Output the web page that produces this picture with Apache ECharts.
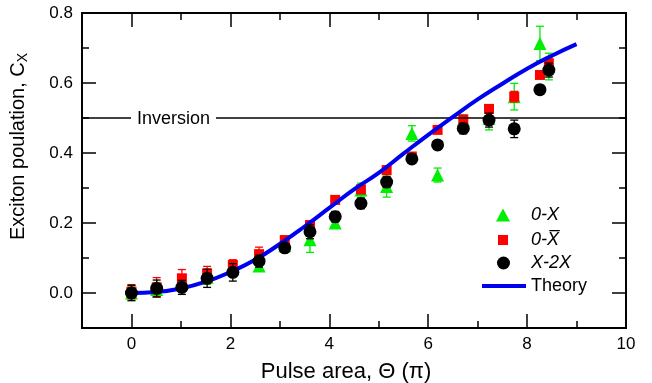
<!DOCTYPE html>
<html>
<head>
<meta charset="utf-8">
<script src="https://cdn.jsdelivr.net/npm/echarts@6/dist/echarts.min.js"></script>
<style>
  html, body { margin: 0; padding: 0; background: #fff; }
  #chart { width: 652px; height: 383px; }
</style>
</head>
<body>
<div id="chart"></div>
<script>
// pulse area (units of pi) of the measured points
const pulseArea = [0, 0.51, 1.02, 1.53, 2.05, 2.58, 3.10, 3.61, 4.12, 4.64, 5.16, 5.67, 6.19, 6.71, 7.23, 7.74, 8.26, 8.44];

// 0-X (green triangles)
const pop0X = [0.0, 0.01, 0.03, 0.045, 0.07, 0.077, 0.135, 0.152, 0.200, 0.294, 0.304, 0.456, 0.337, 0.494, 0.499, 0.561, 0.713, 0.647];
const err0X = [0.02, 0.02, 0.02, 0.02, 0.015, 0.015, 0.015, 0.036, 0.015, 0.02, 0.03, 0.022, 0.02, 0.015, 0.033, 0.038, 0.049, 0.038];

// 0-Xbar (red squares)
const pop0Xbar = [0.004, 0.016, 0.042, 0.056, 0.080, 0.111, 0.151, 0.194, 0.266, 0.296, 0.351, 0.390, 0.466, 0.496, 0.526, 0.561, 0.623, 0.656];
const err0Xbar = [0.02, 0.028, 0.025, 0.02, 0.015, 0.02, 0.012, 0.012, 0.01, 0.012, 0.012, 0.01, 0.01, 0.01, 0.012, 0.015, 0.01, 0.015];

// X-2X (black circles)
const popX2X = [0.0, 0.013, 0.016, 0.042, 0.059, 0.091, 0.129, 0.175, 0.218, 0.256, 0.317, 0.383, 0.423, 0.470, 0.494, 0.469, 0.581, 0.637];
const errX2X = [0.022, 0.024, 0.02, 0.026, 0.025, 0.017, 0.01, 0.02, 0.015, 0.015, 0.015, 0.01, 0.01, 0.015, 0.02, 0.025, 0.012, 0.02];

// theory curve
const theoryX = [0, 0.5, 1, 1.5, 2, 2.5, 3, 3.5, 4, 4.5, 5, 5.5, 6, 6.5, 7, 7.5, 8, 8.5, 9];
const theoryY = [0, 0.003, 0.013, 0.032, 0.060, 0.095, 0.140, 0.190, 0.243, 0.296, 0.343, 0.398, 0.452, 0.503, 0.553, 0.598, 0.641, 0.678, 0.711];

const xMajorTicks = [0, 2, 4, 6, 8, 10];
const yMajorTicks = [0, 0.2, 0.4, 0.6, 0.8];
const inversionLevel = 0.5;

const GREEN = "#00ee00";
const RED = "#ff0000";
const BLUE = "#0000f0";
const font = "Liberation Sans, Arial, sans-serif";

const pts = (ys) => pulseArea.map((x, i) => [x, ys[i]]);
const bars = (ys, es) => pulseArea.map((x, i) => [x, ys[i] - es[i], ys[i] + es[i]]);

function errorBars(name, ys, es, color, z) {
  return {
    name: name,
    type: "custom",
    xAxisIndex: 1,
    yAxisIndex: 1,
    z: z,
    silent: true,
    data: bars(ys, es),
    renderItem: (params, api) => {
      const lo = api.coord([api.value(0), api.value(1)]);
      const hi = api.coord([api.value(0), api.value(2)]);
      const st = { stroke: color, lineWidth: 1.3 };
      return {
        type: "group",
        children: [
          { type: "line", shape: { x1: lo[0], y1: lo[1], x2: hi[0], y2: hi[1] }, style: st },
          { type: "line", shape: { x1: lo[0] - 4, y1: lo[1], x2: lo[0] + 4, y2: lo[1] }, style: st },
          { type: "line", shape: { x1: hi[0] - 4, y1: hi[1], x2: hi[0] + 4, y2: hi[1] }, style: st },
        ],
      };
    },
  };
}

const axisLine = { show: true, onZero: false, lineStyle: { color: "#000", width: 1.8 } };

function xAx(pos, major, labels) {
  return {
    type: "value",
    position: pos,
    min: -1,
    max: 10,
    interval: 1,
    axisLine: axisLine,
    splitLine: { show: false },
    axisTick: major
      ? { inside: true, length: 14, customValues: xMajorTicks, lineStyle: { color: "#000", width: 1.5 } }
      : { inside: true, length: 7, lineStyle: { color: "#000", width: 1.5 } },
    axisLabel: labels
      ? { show: true, customValues: xMajorTicks, color: "#000", fontSize: 17, fontFamily: font, margin: 8 }
      : { show: false },
  };
}

function yAx(pos, major, labels) {
  return {
    type: "value",
    position: pos,
    min: -0.1,
    max: 0.8,
    interval: 0.1,
    axisLine: axisLine,
    splitLine: { show: false },
    axisTick: major
      ? { inside: true, length: 14, customValues: yMajorTicks, lineStyle: { color: "#000", width: 1.5 } }
      : { inside: true, length: 7, lineStyle: { color: "#000", width: 1.5 } },
    axisLabel: labels
      ? { show: true, customValues: yMajorTicks, color: "#000", fontSize: 17, fontFamily: font, margin: 9,
          formatter: (v) => v.toFixed(1) }
      : { show: false },
  };
}

const xAxes = [xAx("bottom", false, false), xAx("bottom", true, true), xAx("top", false, false), xAx("top", true, false)];
xAxes[1].name = "Pulse area, \u0398 (\u03c0)";
xAxes[1].nameLocation = "middle";
xAxes[1].nameGap = 33;
xAxes[1].nameTextStyle = { color: "#000", fontSize: 22, fontFamily: font, padding: [0, 16, 0, 0] };

const yAxes = [yAx("left", false, false), yAx("left", true, true), yAx("right", false, false), yAx("right", true, false)];
yAxes[1].name = "{a|Exciton poulation, C}{s|X}";
yAxes[1].nameLocation = "middle";
yAxes[1].nameGap = 52;
yAxes[1].nameRotate = 90;
yAxes[1].nameTextStyle = {
  color: "#000",
  fontFamily: font,
  padding: [0, 0, 0, 48],
  rich: {
    a: { fontSize: 20, fontFamily: font, color: "#000" },
    s: { fontSize: 14, fontFamily: font, color: "#000", padding: [10, 0, 0, 0] },
  },
};

// one legend per entry so each icon keeps its own size
function legendItem(name, icon, w, h, left, top, padLeft, italic) {
  return {
    orient: "vertical",
    left: left,
    top: top,
    padding: 0,
    icon: icon,
    itemWidth: w,
    itemHeight: h,
    textStyle: { color: "#000", fontSize: 18, fontFamily: font, fontStyle: italic ? "italic" : "normal",
                 padding: [0, 0, 0, padLeft] },
    data: [name],
  };
}

const chart = echarts.init(document.getElementById("chart"), null, { renderer: "canvas" });

chart.setOption({
  animation: false,
  backgroundColor: "#fff",
  grid: { left: 82, right: 26, top: 13, bottom: 55, outerBoundsMode: "none", containLabel: false },
  xAxis: xAxes,
  yAxis: yAxes,
  legend: [
    legendItem("0-X", "triangle", 14, 13, 496, 206, 16, true),
    legendItem("0-X\u0305", "rect", 10, 10, 498, 231, 18, true),
    legendItem("X-2X", "circle", 13, 13, 497, 254, 16, true),
    legendItem("Theory", "rect", 44, 4, 482, 277, 0, false),
  ],
  series: [
    errorBars("err0X", pop0X, err0X, GREEN, 1),
    {
      name: "0-X",
      type: "scatter",
      xAxisIndex: 1,
      yAxisIndex: 1,
      z: 2,
      symbol: "triangle",
      symbolSize: 13,
      itemStyle: { color: GREEN, opacity: 1 },
      data: pts(pop0X),
    },
    errorBars("err0Xbar", pop0Xbar, err0Xbar, RED, 3),
    {
      name: "0-X\u0305",
      type: "scatter",
      xAxisIndex: 1,
      yAxisIndex: 1,
      z: 4,
      symbol: "rect",
      symbolSize: 10,
      itemStyle: { color: RED, opacity: 1 },
      data: pts(pop0Xbar),
    },
    {
      name: "Theory",
      type: "line",
      xAxisIndex: 1,
      yAxisIndex: 1,
      z: 5,
      smooth: true,
      symbol: "none",
      lineStyle: { color: BLUE, width: 4 },
      itemStyle: { color: BLUE },
      data: theoryX.map((x, i) => [x, theoryY[i]]),
      markLine: {
        silent: true,
        symbol: "none",
        lineStyle: { color: "#000", width: 1.5, type: "solid" },
        label: {
          show: true,
          formatter: "Inversion",
          position: "insideStartTop",
          distance: [49, -10],
          color: "#000",
          fontSize: 18,
          fontFamily: font,
          backgroundColor: "#fff",
          padding: [0, 6, 0, 6],
        },
        data: [{ yAxis: inversionLevel }],
      },
    },
    errorBars("errX2X", popX2X, errX2X, "#000", 6),
    {
      name: "X-2X",
      type: "scatter",
      xAxisIndex: 1,
      yAxisIndex: 1,
      z: 7,
      symbol: "circle",
      symbolSize: 13,
      itemStyle: { color: "#000", opacity: 1 },
      data: pts(popX2X),
    },
  ],
});
</script>
</body>
</html>
